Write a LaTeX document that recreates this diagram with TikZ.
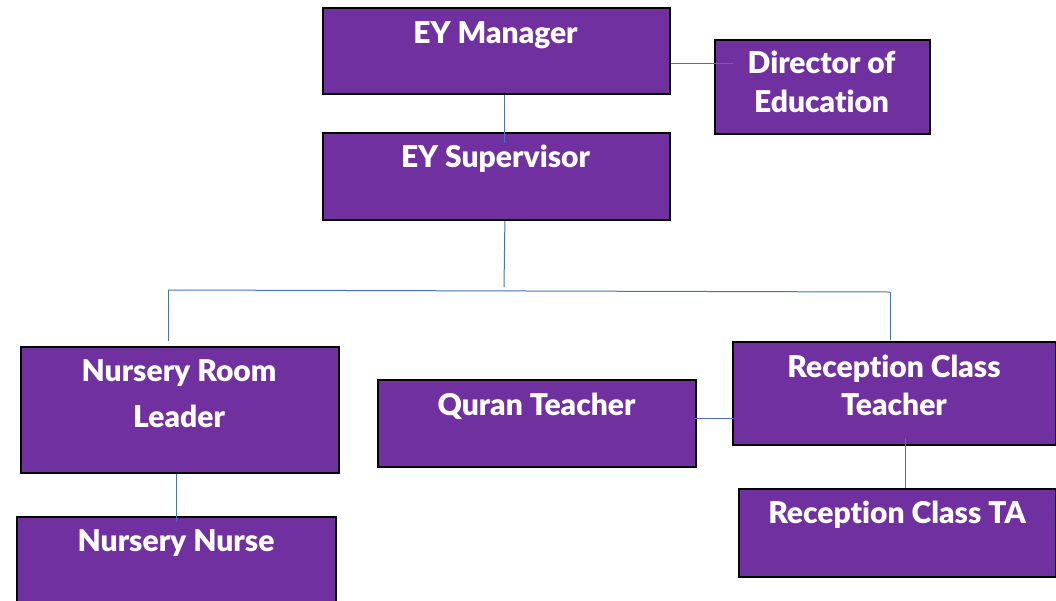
\documentclass[tikz,border=0pt]{standalone}
\usepackage{fontspec}
\setmainfont{Lato}[BoldFont={Lato Black}, Ligatures={NoCommon}]
\usetikzlibrary{calc}
\definecolor{boxpurple}{HTML}{7030A0}
\definecolor{linkblue}{HTML}{4472C4}
\begin{document}
\begin{tikzpicture}[x=1pt,y=-1pt,
  box/.style={draw=black, fill=boxpurple, line width=1.8pt, inner sep=0pt, anchor=north west},
  lbl/.style={text=white, font=\bfseries\fontsize{30}{30}\selectfont, anchor=base, inner sep=0pt},
  link/.style={draw=linkblue, line width=1pt}]
\useasboundingbox (0,0) rectangle (1056,600);
% boxes
\node[box, minimum width=347pt, minimum height=86pt] (mgr) at (322,7) {};
\node[box, minimum width=215pt, minimum height=94pt] (dir) at (714,39) {};
\node[box, minimum width=347pt, minimum height=87pt] (sup) at (322,132) {};
\node[box, minimum width=318pt, minimum height=126pt] (nrl) at (20,346) {};
\node[box, minimum width=319pt, minimum height=110pt] (nn) at (16,516) {};
\node[box, minimum width=318pt, minimum height=87pt] (qt) at (377,379) {};
\node[box, minimum width=323pt, minimum height=103pt] (rct) at (732,341) {};
\node[box, minimum width=317pt, minimum height=88pt] (ta) at (738,488) {};
% labels
\node[lbl] (tmgr) at (495.5,43) {EY Manager};
\node[lbl] (tdir1) at (821.5,73) {Director of};
\node[lbl] (tdir2) at (821.5,112) {Education};
\node[lbl] (tsup) at (495.5,167) {EY Supervisor};
\node[lbl] (tnrl1) at (179,381) {Nursery Room};
\node[lbl] (tnrl2) at (179,427) {Leader};
\node[lbl] (tnn) at (176,551) {Nursery Nurse};
\node[lbl] (tqt) at (536.5,415) {Quran Teacher};
\node[lbl] (trct1) at (894,377) {Reception Class};
\node[lbl] (trct2) at (894,415) {Teacher};
\node[lbl] (tta) at (897,523) {Reception Class TA};
% connectors
\coordinate (supfoot) at (504,287);
\coordinate (busL) at (168,290);
\coordinate (busR) at (890,292);
\coordinate (nrltop) at (168,341);
\coordinate (rcttop) at (890,340);
\draw[link] ($(mgr.east)+(0,13)$) -- ($(dir.west)+(19,-23)$);
\draw[link] ($(mgr.south)+(8.5,0)$) -- ($(sup.north)+(8.5,11)$);
\draw[link] ($(sup.south)+(8.5,0)$) -- (supfoot);
\draw[link] (busL) -- (busR);
\draw[link] (busL) -- (nrltop);
\draw[link] (busR) -- (rcttop);
\draw[link] (nn.north |- nrl.south) -- ($(nn.north)+(0,6)$);
\draw[link] ($(qt.east)+(-2,-4.5)$) -- ($(qt.east)+(37,-4.5)$);
\draw[link] ($(ta.north)+(8.5,-50)$) -- ($(ta.north)+(8.5,0)$);
\end{tikzpicture}
\end{document}
